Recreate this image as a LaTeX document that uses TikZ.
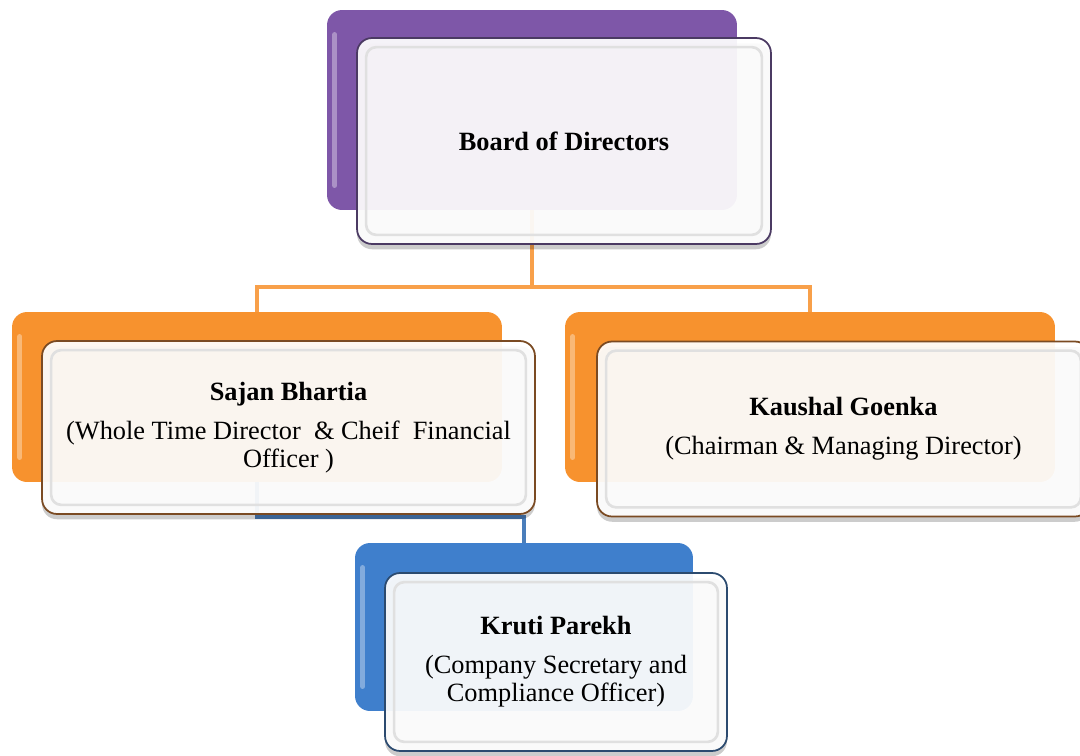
\documentclass[tikz,border=0pt]{standalone}
\usepackage{fontspec}
\setmainfont{Liberation Serif}
\usetikzlibrary{shadows}
\definecolor{board}{RGB}{126,87,168}
\definecolor{director}{RGB}{247,146,46}
\definecolor{officer}{RGB}{63,127,204}
\definecolor{boardedge}{RGB}{75,58,99}
\definecolor{directoredge}{RGB}{122,74,34}
\definecolor{officeredge}{RGB}{43,74,111}
\definecolor{directorline}{RGB}{248,160,74}
\definecolor{officerline}{RGB}{74,126,187}
\tikzstyle{back}=[rounded corners=0.3cm, inner sep=0pt]
\tikzstyle{front}=[rounded corners=0.3cm, fill=white, fill opacity=0.93, text opacity=1, line width=1pt, align=center, font=\fontsize{15}{16}\selectfont, drop shadow={shadow xshift=0pt, shadow yshift=-3pt, opacity=0.2, fill=black}]
\tikzset{link/.style={line width=2.3pt}}
\tikzset{shine/.style={white, opacity=0.35, line width=3pt, line cap=round}}
\tikzset{bevel/.style={black!12, line width=1.5pt, rounded corners=0.2cm}}

\begin{document}
\begin{tikzpicture}[x=0.02cm,y=-0.02cm]
  \useasboundingbox (0,0) rectangle (1080,755);
  %% Back boxes
  \draw (532,110) node[back, fill=board, minimum width=8.2cm, minimum height=4cm] (boardback) {};
  \draw (257,397) node[back, fill=director, minimum width=9.8cm, minimum height=3.4cm] (sajanback) {};
  \draw (810,397) node[back, fill=director, minimum width=9.8cm, minimum height=3.4cm] (kaushalback) {};
  \draw (524,627) node[back, fill=officer, minimum width=6.76cm, minimum height=3.36cm] (krutiback) {};
  \foreach \b in {boardback,sajanback,kaushalback,krutiback}
    \draw[shine] ([xshift=0.16cm,yshift=-0.5cm]\b.north west) -- ([xshift=0.16cm,yshift=0.5cm]\b.south west);

  %% Connectors
  \coordinate (split) at (532,287);
  \coordinate (turn) at (257,517);
  \draw[link, directorline] (boardback.south) -- (split) -| (sajanback.north);
  \draw[link, directorline] (split) -| (kaushalback.north);
  \draw[link, officerline] (sajanback.south) -- (turn) -| (krutiback.north);

  %% Front boxes
  \draw (564,141) node[front, draw=boardedge, minimum width=8.28cm, minimum height=4.12cm] (board) {\textbf{Board of Directors}};
  \draw (288.5,427.5) node[front, draw=directoredge, minimum width=9.86cm, minimum height=3.46cm] (sajan) {\textbf{Sajan Bhartia}\\[6pt](Whole Time Director\ \ \& Cheif\ \ Financial\\Officer )};
  \draw (843.5,429) node[front, draw=directoredge, minimum width=9.86cm, minimum height=3.5cm] (kaushal) {\textbf{Kaushal Goenka}\\[6pt](Chairman \& Managing Director)};
  \draw (556,662) node[front, draw=officeredge, minimum width=6.84cm, minimum height=3.56cm] (kruti) {\textbf{Kruti Parekh}\\[6pt](Company Secretary and\\Compliance Officer)};
  \foreach \f in {board,sajan,kaushal,kruti}
    \draw[bevel] ([shift={(0.2cm,-0.2cm)}]\f.north west) rectangle ([shift={(-0.2cm,0.2cm)}]\f.south east);
\end{tikzpicture}
\end{document}
